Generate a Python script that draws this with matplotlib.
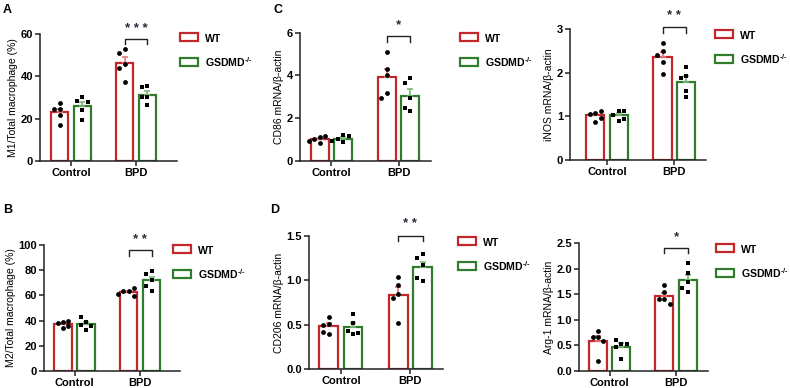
import numpy as np
import matplotlib
matplotlib.use("Agg")
import matplotlib.pyplot as plt
from matplotlib.patches import Patch

plt.rcParams['font.family'] = ['Liberation Sans', 'DejaVu Sans']
plt.rcParams['mathtext.fontset'] = 'custom'
plt.rcParams['mathtext.rm'] = 'Liberation Sans:bold'
plt.rcParams['mathtext.bf'] = 'Liberation Sans:bold'

# ---- data ----
groups = ['Control', 'BPD']
genotypes = ['WT', r'GSDMD$^{\text{-/-}}$']

m1_wt_ctrl = [27.5, 24.5, 24.5, 21.5, 17.0]
m1_ko_ctrl = [30.0, 28.5, 28.0, 24.0, 19.5]
m1_wt_bpd = [53.0, 51.0, 46.0, 44.0, 37.5]
m1_ko_bpd = [35.5, 35.0, 30.0, 30.0, 26.5]

cd86_wt_ctrl = [1.12, 1.05, 1.15, 0.85, 0.95]
cd86_ko_ctrl = [1.20, 1.05, 1.15, 0.88, 0.95]
cd86_wt_bpd = [5.10, 4.30, 4.00, 3.20, 2.95]
cd86_ko_bpd = [3.86, 3.66, 2.96, 2.34, 2.49]

inos_wt_ctrl = [1.08, 1.05, 1.12, 0.88, 0.97]
inos_ko_ctrl = [1.12, 1.03, 1.12, 0.90, 0.94]
inos_wt_bpd = [2.68, 2.50, 2.40, 2.24, 1.97]
inos_ko_bpd = [2.13, 1.92, 1.88, 1.59, 1.45]

m2_wt_ctrl = [39.0, 38.0, 40.0, 34.0, 35.5]
m2_ko_ctrl = [38.9, 43.1, 36.2, 32.5, 35.9]
m2_wt_bpd = [63.5, 63.5, 65.6, 59.5, 60.8]
m2_ko_bpd = [79.4, 77.0, 72.2, 63.7, 67.7]

cd206_wt_ctrl = [0.51, 0.59, 0.50, 0.40, 0.42]
cd206_ko_ctrl = [0.62, 0.52, 0.40, 0.43, 0.41]
cd206_wt_bpd = [1.04, 0.95, 0.85, 0.80, 0.52]
cd206_ko_bpd = [1.30, 1.25, 1.17, 0.99, 1.03]

arg1_wt_ctrl = [0.66, 0.79, 0.66, 0.59, 0.20]
arg1_ko_ctrl = [0.53, 0.47, 0.61, 0.53, 0.23]
arg1_wt_bpd = [1.67, 1.55, 1.41, 1.41, 1.31]
arg1_ko_bpd = [2.10, 1.91, 1.73, 1.63, 1.55]

# ---- styling ----
RED = '#c3262b'
GREEN = '#2f7d2c'
RED_ERR = '#e07a7a'
GREEN_ERR = '#7fb77a'
STAR = '#2a2a3a'

W, H = 790, 388
fig = plt.figure(figsize=(W / 100, H / 100), dpi=100)


def px_axes(x0, x1, ytop, ybot):
    return fig.add_axes([x0 / W, (H - ybot) / H, (x1 - x0) / W, (ybot - ytop) / H])


def swarm(ax, xc, vals, d=5.4):
    # spread overlapping points sideways, in pixel space
    to_px = ax.transData
    placed = []
    xs = []
    ppx = to_px.transform([[0, 0], [1, 0]])
    unit = ppx[1, 0] - ppx[0, 0]
    for v in vals:
        ypx = to_px.transform([[xc, v]])[0, 1]
        for k in [0, -1, 1, -2, 2, -3, 3]:
            xpx = k * d
            if all((xpx - a) ** 2 + (ypx - b) ** 2 >= d * d for a, b in placed):
                break
        placed.append((xpx, ypx))
        xs.append(xc + xpx / unit)
    return xs


def panel(rect, xlim, ylim, yticks, ylabel, data, sig, sig_y, leg_xy, fmt='{:g}'):
    ax = px_axes(*rect)
    ax.set_xlim(*xlim)
    ax.set_ylim(*ylim)
    bw, off = 0.27, 0.175
    cols = [RED, GREEN]
    ecols = [RED_ERR, GREEN_ERR]
    markers = ['o', 's']
    for gi in range(2):
        for k in range(2):
            vals = np.array(data[gi][k])
            xc = gi + (2 * k - 1) * off
            mean = vals.mean()
            sem = vals.std(ddof=1) / np.sqrt(len(vals))
            ax.bar(xc, mean, width=bw, facecolor='white', edgecolor=cols[k],
                   linewidth=1.6, zorder=2)
            ax.errorbar(xc, mean, yerr=[[0], [sem]], color=ecols[k], capsize=2.5,
                        elinewidth=1.2, capthick=1.2, zorder=3)
            xs = swarm(ax, xc, vals)
            ax.scatter(xs, vals, s=12, marker=markers[k], color='black', zorder=4,
                       linewidths=0)
    # significance bracket
    y_top, y_tick, y_star = sig_y
    xa, xb = 1 - off, 1 + off
    ax.plot([xa, xa, xb, xb], [y_tick, y_top, y_top, y_tick], color='#222222',
            lw=1.0, clip_on=False, zorder=5)
    ax.text(1, y_star, ' '.join(sig), ha='center', va='center', fontsize=9.5,
            color=STAR, fontweight='bold', clip_on=False)

    for s in ['top', 'right']:
        ax.spines[s].set_visible(False)
    for s in ['left', 'bottom']:
        ax.spines[s].set_linewidth(1.1)
        ax.spines[s].set_color('#222222')
    ax.set_xticks([0, 1])
    ax.set_xticklabels(groups, fontsize=8, fontweight='bold')
    ax.set_yticks(yticks)
    ax.set_yticklabels([fmt.format(t) for t in yticks], fontsize=8, fontweight='bold')
    ax.tick_params(length=3.5, width=1.1, color='#222222', pad=1.5)
    ax.set_ylabel(ylabel, fontsize=7.5, labelpad=2)

    handles = [Patch(facecolor='white', edgecolor=c, linewidth=1.6) for c in cols]
    leg = ax.legend(handles, genotypes, loc='center left', frameon=False,
                    bbox_to_anchor=(leg_xy[0] / W, 1 - leg_xy[1] / H),
                    bbox_transform=fig.transFigure, handlelength=1.3,
                    handleheight=0.45, handletextpad=0.5, labelspacing=0.8,
                    borderpad=0, borderaxespad=0)
    for t in leg.get_texts():
        t.set_fontsize(7.6)
        t.set_fontweight('bold')
    return ax


panel((40, 177, 34, 161), (-0.477, 1.63), (0, 60), [0, 20, 40, 60],
      'M1/Total macrophage (%)',
      [[m1_wt_ctrl, m1_ko_ctrl], [m1_wt_bpd, m1_ko_bpd]],
      '***', (57.5, 55.5, 62.5), (180, 51))

panel((300, 431, 32.7, 161), (-0.47, 1.485), (0, 6), [0, 2, 4, 6],
      'CD86 mRNA/β-actin',
      [[cd86_wt_ctrl, cd86_ko_ctrl], [cd86_wt_bpd, cd86_ko_bpd]],
      '*', (5.84, 5.57, 6.35), (460, 51))

panel((570, 706, 29, 160), (-0.55, 1.47), (0, 3), [0, 1, 2, 3],
      'iNOS mRNA/β-actin',
      [[inos_wt_ctrl, inos_ko_ctrl], [inos_wt_bpd, inos_ko_bpd]],
      '**', (3.05, 2.9, 3.29), (715, 48))

panel((44, 180, 245, 371), (-0.466, 1.61), (0, 100), [0, 20, 40, 60, 80, 100],
      'M2/Total macrophage (%)',
      [[m2_wt_ctrl, m2_ko_ctrl], [m2_wt_bpd, m2_ko_bpd]],
      '**', (96, 91, 104), (173, 263))

panel((309, 443, 236, 369), (-0.46, 1.47), (0, 1.5), [0, 0.5, 1.0, 1.5],
      'CD206 mRNA/β-actin',
      [[cd206_wt_ctrl, cd206_ko_ctrl], [cd206_wt_bpd, cd206_ko_bpd]],
      '**', (1.50, 1.44, 1.63), (458, 255), fmt='{:.1f}')

panel((579, 708, 243, 371), (-0.46, 1.48), (0, 2.5), [0, 0.5, 1.0, 1.5, 2.0, 2.5],
      'Arg-1 mRNA/β-actin',
      [[arg1_wt_ctrl, arg1_ko_ctrl], [arg1_wt_bpd, arg1_ko_bpd]],
      '*', (2.41, 2.30, 2.61), (716, 262), fmt='{:.1f}')

for lab, x, y in [('A', 3, 10), ('B', 3, 210), ('C', 273, 10), ('D', 270, 210)]:
    fig.text(x / W, 1 - y / H, lab, fontsize=9, fontweight='bold', va='center', ha='left')

fig.savefig('out.png', dpi=100)
